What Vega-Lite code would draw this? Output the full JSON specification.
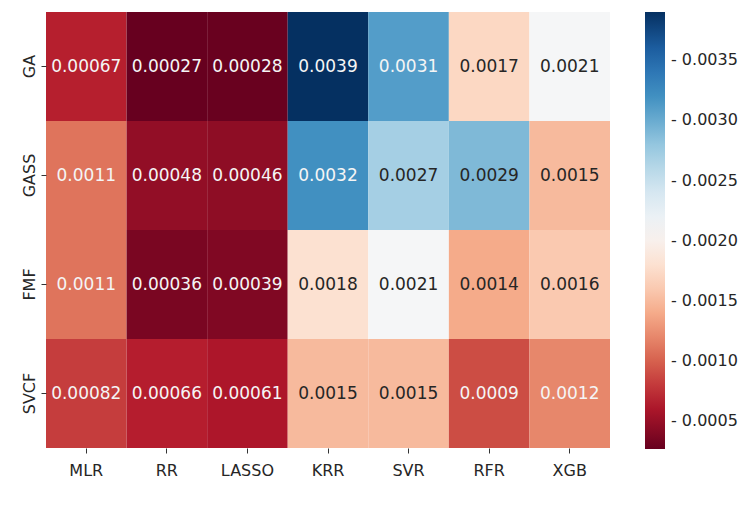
{
  "$schema": "https://vega.github.io/schema/vega-lite/v6.json",
  "width": 564,
  "height": 436,
  "autosize": {"type": "none"},
  "padding": {"left": 46, "top": 12, "right": 134, "bottom": 58},
  "background": "white",
  "config": {
    "font": "DejaVu Sans",
    "view": {"stroke": null}
  },
  "data": {
    "values": [
      {"fs": "GA", "model": "MLR", "v": 0.00067},
      {"fs": "GA", "model": "RR", "v": 0.00027},
      {"fs": "GA", "model": "LASSO", "v": 0.00028},
      {"fs": "GA", "model": "KRR", "v": 0.0039},
      {"fs": "GA", "model": "SVR", "v": 0.0031},
      {"fs": "GA", "model": "RFR", "v": 0.0017},
      {"fs": "GA", "model": "XGB", "v": 0.0021},
      {"fs": "GASS", "model": "MLR", "v": 0.0011},
      {"fs": "GASS", "model": "RR", "v": 0.00048},
      {"fs": "GASS", "model": "LASSO", "v": 0.00046},
      {"fs": "GASS", "model": "KRR", "v": 0.0032},
      {"fs": "GASS", "model": "SVR", "v": 0.0027},
      {"fs": "GASS", "model": "RFR", "v": 0.0029},
      {"fs": "GASS", "model": "XGB", "v": 0.0015},
      {"fs": "FMF", "model": "MLR", "v": 0.0011},
      {"fs": "FMF", "model": "RR", "v": 0.00036},
      {"fs": "FMF", "model": "LASSO", "v": 0.00039},
      {"fs": "FMF", "model": "KRR", "v": 0.0018},
      {"fs": "FMF", "model": "SVR", "v": 0.0021},
      {"fs": "FMF", "model": "RFR", "v": 0.0014},
      {"fs": "FMF", "model": "XGB", "v": 0.0016},
      {"fs": "SVCF", "model": "MLR", "v": 0.00082},
      {"fs": "SVCF", "model": "RR", "v": 0.00066},
      {"fs": "SVCF", "model": "LASSO", "v": 0.00061},
      {"fs": "SVCF", "model": "KRR", "v": 0.0015},
      {"fs": "SVCF", "model": "SVR", "v": 0.0015},
      {"fs": "SVCF", "model": "RFR", "v": 0.0009},
      {"fs": "SVCF", "model": "XGB", "v": 0.0012}
    ]
  },
  "encoding": {
    "x": {
      "field": "model", "type": "nominal",
      "sort": ["MLR", "RR", "LASSO", "KRR", "SVR", "RFR", "XGB"],
      "scale": {"paddingInner": 0, "paddingOuter": 0},
      "axis": {"title": null, "labelAngle": 0, "domain": false, "tickSize": 5, "tickColor": "#333333", "labelFontSize": 16, "labelColor": "#262626", "labelPadding": 9}
    },
    "y": {
      "field": "fs", "type": "nominal",
      "sort": ["GA", "GASS", "FMF", "SVCF"],
      "scale": {"paddingInner": 0, "paddingOuter": 0},
      "axis": {"title": null, "labelAngle": 270, "labelAlign": "center", "labelBaseline": "bottom", "domain": false, "tickSize": 5, "tickColor": "#333333", "labelFontSize": 16, "labelColor": "#262626", "labelPadding": 4}
    }
  },
  "layer": [
    {
      "mark": {"type": "rect"},
      "encoding": {
        "color": {
          "field": "v", "type": "quantitative",
          "scale": {
            "type": "linear",
            "interpolate": "rgb",
            "domain": [0.00027, 0.000633, 0.000996, 0.001359, 0.001722, 0.002085, 0.002448, 0.002811, 0.003174, 0.003537, 0.0039],
            "range": ["#67001f", "#b2182b", "#d6604d", "#f4a582", "#fddbc7", "#f7f7f7", "#d1e5f0", "#92c5de", "#4393c3", "#2166ac", "#053061"]
          },
          "legend": {
            "title": null,
            "orient": "right",
            "offset": 35,
            "direction": "vertical",
            "gradientLength": 437,
            "gradientThickness": 20,
            "gradientStrokeWidth": 0,
            "values": [0.0005, 0.001, 0.0015, 0.002, 0.0025, 0.003, 0.0035],
            "labelExpr": "'- ' + format(datum.value, '.4f')",
            "labelFontSize": 16,
            "labelColor": "#262626",
            "labelOffset": 6,
            "labelOverlap": false
          }
        }
      }
    },
    {
      "mark": {"type": "text", "fontSize": 17},
      "encoding": {
        "text": {"field": "v", "type": "quantitative", "format": ".2~g"},
        "color": {
          "condition": {"test": "datum.v < 0.00125 || datum.v > 0.00305", "value": "#f5f5f5"},
          "value": "#262626"
        }
      }
    }
  ]
}
